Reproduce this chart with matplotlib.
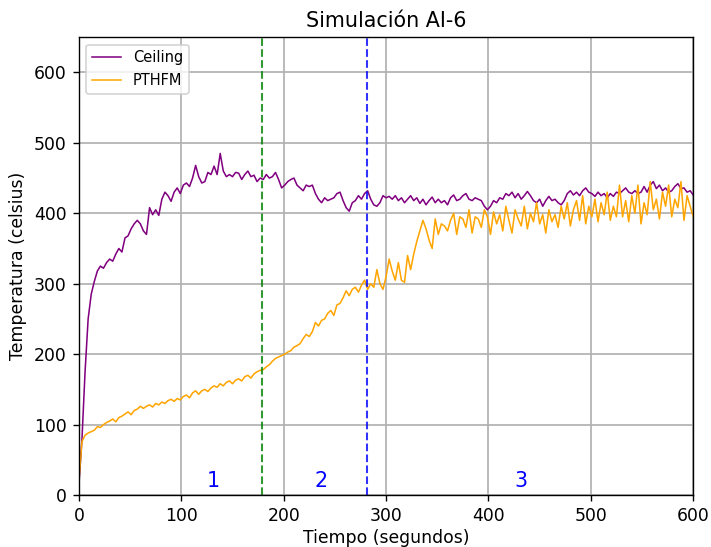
import numpy as np
import matplotlib
matplotlib.use("Agg")
import matplotlib.pyplot as plt

time_step = 3
ceiling = [15, 80, 175, 250, 285, 303, 318, 325, 322, 330, 335, 332, 342, 350, 345, 365,
           368, 378, 385, 390, 385, 375, 370, 408, 398, 405, 397, 420, 430, 425, 417, 430,
           436, 428, 440, 443, 438, 450, 468, 452, 443, 445, 458, 455, 467, 455, 485, 460,
           452, 455, 452, 458, 457, 448, 455, 460, 452, 454, 445, 450, 448, 455, 450, 452,
           458, 448, 436, 440, 445, 448, 450, 440, 436, 432, 440, 438, 440, 428, 420, 415,
           422, 418, 420, 422, 428, 430, 418, 408, 403, 415, 418, 425, 420, 428, 432, 420,
           412, 410, 415, 425, 422, 424, 420, 425, 418, 422, 415, 420, 425, 418, 422, 414,
           420, 412, 418, 423, 415, 420, 415, 418, 412, 422, 426, 418, 420, 425, 428, 420,
           418, 422, 420, 418, 410, 405, 410, 418, 415, 422, 420, 428, 425, 430, 422, 428,
           420, 425, 431, 425, 418, 415, 420, 410, 418, 424, 418, 420, 415, 412, 418, 428,
           432, 426, 430, 425, 432, 436, 430, 428, 424, 430, 425, 428, 422, 428, 424, 430,
           428, 432, 436, 430, 428, 432, 428, 430, 438, 430, 440, 445, 435, 440, 432, 436,
           430, 432, 438, 442, 435, 436, 430, 432, 426]
pthfm = [20, 76, 85, 88, 90, 92, 97, 96, 100, 103, 105, 108, 104, 110, 112, 115,
         118, 114, 120, 122, 126, 123, 126, 128, 125, 130, 128, 132, 130, 134, 136, 133,
         137, 135, 140, 142, 138, 145, 148, 143, 148, 150, 147, 152, 155, 153, 158, 155,
         160, 162, 158, 163, 165, 162, 168, 170, 166, 172, 175, 177, 178, 182, 185, 190,
         194, 196, 198, 200, 203, 205, 210, 212, 215, 222, 228, 225, 232, 245, 240, 248,
         250, 258, 262, 255, 270, 272, 280, 290, 283, 292, 295, 288, 298, 305, 292, 300,
         295, 320, 300, 292, 310, 335, 318, 305, 330, 305, 302, 340, 320, 342, 360, 375,
         390, 378, 362, 350, 392, 370, 385, 382, 375, 390, 400, 370, 395, 392, 380, 405,
         372, 395, 392, 380, 405, 395, 370, 402, 385, 398, 375, 410, 390, 372, 405, 392,
         382, 410, 378, 400, 388, 415, 385, 398, 372, 405, 388, 398, 380, 410, 392, 415,
         382, 405, 418, 390, 425, 385, 410, 395, 420, 388, 415, 398, 430, 390, 410, 395,
         440, 395, 418, 388, 425, 400, 440, 385, 415, 398, 445, 405, 420, 392, 430, 410,
         440, 395, 420, 408, 445, 390, 425, 410, 395]
t = np.arange(len(ceiling)) * time_step

vlines = [178.5, 281]
vline_colors = ["green", "blue"]
zone_labels = ["1", "2", "3"]
zone_x = [131, 236.5, 431.5]
zone_y = 20

DPI = 124
fig = plt.figure(figsize=(711 / DPI, 547 / DPI), dpi=DPI)
ax = fig.add_axes([0.111, 0.095, 0.864, 0.837])
ax.plot(t, ceiling, color="purple", lw=0.9, label="Ceiling")
ax.plot(t, pthfm, color="orange", lw=0.9, label="PTHFM")
for xv, c in zip(vlines, vline_colors):
    ax.axvline(xv, color=c, ls="--", lw=1.2, alpha=0.8)
for lab, xx in zip(zone_labels, zone_x):
    ax.text(xx, zone_y, lab, color="blue", fontsize=12, ha="center", va="center")
ax.set_xlim(0, 600)
ax.set_ylim(0, 650)
ax.set_xticks(np.arange(0, 601, 100))
ax.set_yticks(np.arange(0, 601, 100))
ax.grid(True, color="#b0b0b0", lw=1.0)
ax.set_axisbelow(True)
ax.tick_params(labelsize=10)
ax.set_xlabel("Tiempo (segundos)", fontsize=10, labelpad=2)
ax.set_ylabel("Temperatura (celsius)", fontsize=10)
ax.set_title("Simulación AI-6", fontsize=12)
ax.legend(loc="upper left", fontsize=8.5)
fig.savefig("out.png", dpi=DPI)
